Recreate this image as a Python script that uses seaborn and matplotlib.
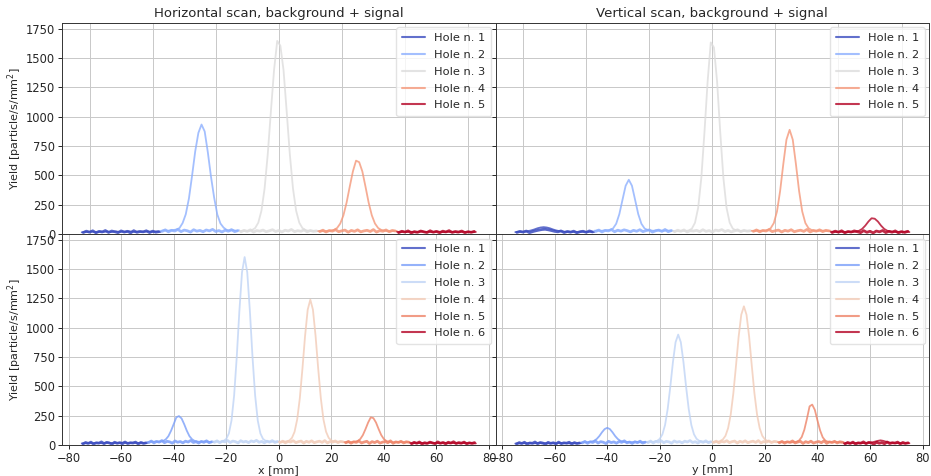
import numpy as np
import pandas as pd
import matplotlib
matplotlib.use("Agg")
import matplotlib.pyplot as plt
import seaborn as sns

# ---------------- data (yield in particles/s/mm^2, 1 mm scan step) ----------------
# Horizontal scan, top panel: 5 holes, 25 mm each, starting at these x positions
h5_starts = [-62.5, -37.5, -12.5, 12.5, 37.5]
h5_hole1 = [14, 19, 16, 21, 17, 15, 20, 18, 22, 16, 19, 21, 17, 20, 18, 23, 19, 17, 21, 18, 20, 22, 18, 19, 21, 17]
h5_hole2 = [26, 31, 27, 30, 33, 38, 50, 93, 168, 302, 497, 705, 862, 933, 874, 696, 488, 310, 166, 89, 54, 34, 29, 32, 27, 30]
h5_hole3 = [24, 27, 23, 26, 33, 50, 96, 198, 388, 680, 1046, 1398, 1646, 1605, 1398, 1046, 680, 388, 198, 96, 50, 33, 26, 24, 27, 25]
h5_hole4 = [24, 27, 22, 26, 28, 34, 51, 89, 159, 267, 403, 533, 625, 612, 533, 403, 267, 159, 89, 51, 34, 28, 25, 22, 26, 24]
h5_hole5 = [18, 15, 19, 16, 20, 17, 14, 18, 21, 16, 19, 15, 18, 20, 17, 15, 19, 16, 18, 14, 17, 19, 16, 18, 15, 17]
# second (background-only) scan row, 25 points per hole, offset by half a step
h5_bg = [12, 24, 15, 27, 10, 22, 17, 29, 13, 25, 19, 11, 26, 16, 23, 9, 28, 14, 21, 18, 27, 12, 24, 15, 20,
         22, 35, 18, 31, 25, 38, 20, 33, 27, 16, 36, 24, 30, 19, 34, 26, 39, 21, 29, 17, 32, 23, 37, 20, 28,
         18, 31, 22, 35, 16, 29, 24, 33, 19, 27, 36, 21, 30, 17, 32, 25, 38, 20, 28, 23, 34, 18, 30, 22, 26,
         20, 32, 17, 29, 24, 36, 19, 27, 33, 15, 30, 22, 35, 18, 26, 31, 21, 37, 16, 28, 23, 34, 19, 30, 25,
         11, 23, 16, 26, 9, 20, 14, 25, 18, 12, 27, 15, 22, 10, 24, 17, 28, 13, 21, 16, 25, 11, 19, 14, 22]

# Vertical scan, top panel
v5_starts = [-62.5, -37.5, -12.5, 12.5, 37.5]
v5_hole1 = [16, 19, 17, 21, 24, 30, 38, 48, 55, 58, 55, 48, 38, 30, 24, 21, 18, 20, 17, 19, 16, 20, 18, 17, 19, 16]
v5_hole2 = [27, 30, 26, 29, 31, 33, 47, 87, 169, 291, 411, 462, 411, 291, 169, 87, 47, 33, 29, 27, 31, 28, 26, 30, 28, 27]
v5_hole3 = [24, 26, 23, 27, 25, 30, 45, 96, 223, 478, 868, 1300, 1633, 1590, 1300, 868, 478, 223, 96, 45, 30, 26, 24, 27, 23, 25]
v5_hole4 = [27, 25, 29, 26, 28, 33, 49, 93, 192, 368, 596, 804, 888, 804, 596, 368, 192, 93, 49, 33, 28, 26, 29, 27, 25, 28]
v5_hole5 = [17, 20, 16, 19, 18, 15, 19, 17, 21, 27, 43, 71, 106, 134, 130, 106, 71, 43, 27, 21, 18, 16, 19, 17, 20, 16]
v5_bg = [13, 22, 16, 25, 11, 20, 27, 33, 38, 40, 35, 29, 22, 18, 26, 12, 21, 15, 24, 10, 19, 23, 14, 26, 17,
         21, 33, 17, 30, 26, 37, 19, 32, 24, 35, 28, 18, 31, 23, 36, 20, 29, 34, 16, 27, 33, 22, 38, 19, 29,
         19, 32, 23, 34, 17, 28, 25, 31, 20, 36, 22, 29, 16, 33, 27, 37, 21, 30, 18, 26, 35, 20, 31, 24, 28,
         22, 34, 18, 30, 25, 37, 20, 28, 33, 17, 31, 24, 36, 19, 27, 32, 22, 38, 17, 29, 24, 35, 20, 31, 26,
         12, 24, 15, 27, 10, 21, 16, 26, 19, 11, 28, 14, 23, 9, 25, 18, 29, 12, 22, 15, 26, 10, 20, 13, 23]

# Horizontal scan, bottom panel: 6 holes
h6_starts = [-75, -50, -25, 0, 25, 50]
h6_hole1 = [14, 17, 15, 19, 16, 18, 20, 17, 15, 19, 21, 18, 16, 20, 17, 19, 22, 18, 16, 19, 21, 17, 18, 20, 16, 19]
h6_hole2 = [26, 29, 27, 30, 28, 30, 35, 49, 76, 122, 178, 236, 247, 227, 178, 122, 76, 49, 35, 30, 27, 29, 31, 28, 26, 29]
h6_hole3 = [28, 31, 29, 27, 36, 52, 99, 209, 422, 750, 1142, 1472, 1603, 1472, 1142, 750, 422, 209, 99, 52, 36, 30, 28, 31, 29, 30]
h6_hole4 = [28, 26, 30, 31, 39, 61, 113, 218, 399, 651, 930, 1154, 1240, 1154, 930, 651, 399, 218, 113, 61, 39, 31, 27, 29, 28, 26]
h6_hole5 = [24, 27, 23, 26, 28, 34, 51, 85, 136, 192, 236, 230, 192, 136, 85, 51, 34, 28, 25, 23, 26, 24, 27, 22, 25, 23]
h6_hole6 = [18, 15, 19, 16, 20, 17, 14, 18, 21, 16, 19, 15, 18, 20, 17, 15, 19, 16, 18, 14, 17, 19, 16, 18, 15, 14]
h6_bg = [10, 22, 14, 25, 9, 19, 16, 27, 12, 23, 18, 8, 24, 15, 21, 11, 26, 13, 20, 17, 25, 10, 22, 14, 19,
         21, 34, 18, 31, 25, 38, 20, 32, 27, 16, 35, 24, 30, 19, 33, 26, 39, 22, 29, 17, 31, 23, 36, 20, 28,
         23, 36, 20, 33, 27, 39, 22, 34, 29, 18, 37, 26, 32, 21, 35, 28, 40, 24, 31, 19, 33, 25, 38, 22, 30,
         22, 33, 19, 31, 26, 37, 21, 29, 34, 17, 32, 24, 36, 20, 28, 33, 23, 38, 18, 30, 25, 35, 21, 31, 27,
         19, 31, 16, 28, 23, 35, 18, 26, 32, 14, 29, 21, 33, 17, 25, 30, 20, 36, 15, 27, 22, 32, 18, 28, 24,
         11, 23, 15, 26, 9, 20, 14, 25, 18, 12, 27, 15, 22, 10, 24, 17, 28, 13, 21, 16, 25, 11, 19, 14, 21]

# Vertical scan, bottom panel
v6_starts = [-75, -50, -25, 0, 25, 50]
v6_hole1 = [13, 16, 14, 17, 15, 18, 16, 14, 17, 19, 15, 16, 18, 14, 17, 15, 16, 19, 15, 17, 14, 16, 18, 15, 17, 16]
v6_hole2 = [22, 25, 23, 26, 29, 36, 52, 77, 109, 136, 147, 136, 109, 77, 52, 36, 29, 25, 27, 24, 26, 28, 25, 23, 26, 25]
v6_hole3 = [27, 29, 26, 30, 36, 53, 92, 171, 308, 498, 708, 877, 942, 877, 708, 498, 308, 171, 92, 53, 36, 30, 28, 26, 29, 27]
v6_hole4 = [27, 29, 26, 35, 48, 79, 145, 262, 444, 678, 923, 1111, 1183, 1111, 923, 678, 444, 262, 145, 79, 48, 35, 29, 27, 30, 28]
v6_hole5 = [24, 26, 23, 27, 25, 22, 26, 28, 39, 68, 130, 225, 330, 345, 300, 210, 125, 66, 38, 28, 25, 23, 26, 24, 22, 25]
v6_hole6 = [15, 18, 14, 17, 16, 19, 15, 17, 16, 18, 20, 24, 30, 36, 40, 36, 29, 23, 19, 17, 15, 18, 16, 14, 17, 15]
v6_bg = [9, 21, 13, 24, 8, 18, 15, 26, 11, 22, 17, 7, 23, 14, 20, 10, 25, 12, 19, 16, 24, 9, 21, 13, 18,
         18, 31, 15, 28, 22, 35, 17, 29, 24, 13, 32, 21, 27, 16, 30, 23, 36, 19, 26, 14, 28, 20, 33, 17, 25,
         21, 34, 18, 31, 25, 37, 20, 32, 27, 16, 35, 24, 30, 19, 33, 26, 38, 22, 29, 17, 31, 23, 36, 20, 28,
         22, 33, 19, 31, 26, 37, 21, 29, 34, 17, 32, 24, 36, 20, 28, 33, 23, 38, 18, 30, 25, 35, 21, 31, 27,
         19, 31, 16, 28, 23, 35, 18, 26, 32, 14, 29, 21, 33, 17, 25, 30, 20, 36, 15, 27, 22, 32, 18, 28, 24,
         10, 22, 14, 25, 9, 19, 16, 27, 12, 23, 18, 8, 24, 15, 21, 11, 26, 13, 20, 17, 25, 10, 22, 14, 19]

titles = ["Horizontal scan, background + signal", "Vertical scan, background + signal"]
xlabels = ["x [mm]", "y [mm]"]
ylabel = "Yield [particle/s/mm$^2$]"
yticks = [0, 250, 500, 750, 1000, 1250, 1500, 1750]
xticks_bottom = [-80, -60, -40, -20, 0, 20, 40, 60, 80]

panels = [
    (0, 0, h5_starts, [h5_hole1, h5_hole2, h5_hole3, h5_hole4, h5_hole5], h5_bg),
    (0, 1, v5_starts, [v5_hole1, v5_hole2, v5_hole3, v5_hole4, v5_hole5], v5_bg),
    (1, 0, h6_starts, [h6_hole1, h6_hole2, h6_hole3, h6_hole4, h6_hole5, h6_hole6], h6_bg),
    (1, 1, v6_starts, [v6_hole1, v6_hole2, v6_hole3, v6_hole4, v6_hole5, v6_hole6], v6_bg),
]

# ---------------- style ----------------
sns.set_theme(style="ticks")
plt.rcParams.update({
    "font.family": ["DejaVu Sans"],
    "axes.edgecolor": "#333333",
    "axes.linewidth": 0.7,
    "grid.color": "#c8c8c8",
    "grid.linewidth": 0.7,
    "xtick.major.size": 3,
    "ytick.major.size": 3,
    "xtick.major.width": 0.7,
    "ytick.major.width": 0.7,
    "text.color": "#262626",
    "xtick.color": "#262626",
    "ytick.color": "#262626",
})

fig, axes = plt.subplots(2, 2, figsize=(9.31, 4.76), dpi=100)
fig.subplots_adjust(left=0.0666, right=0.998, top=0.952, bottom=0.065,
                    hspace=0, wspace=0)

for r, c, starts, holes, bg in panels:
    ax = axes[r, c]
    n = len(holes)
    cols = [plt.cm.coolwarm(v) for v in np.linspace(0, 1, n)]
    names = [f"Hole n. {i + 1}" for i in range(n)]
    frames, bg_frames = [], []
    for i, (s, vals) in enumerate(zip(starts, holes)):
        frames.append(pd.DataFrame({"pos": s + np.arange(len(vals)),
                                    "yield": vals, "hole": names[i]}))
        seg = bg[i * 25:(i + 1) * 25]
        bg_frames.append(pd.DataFrame({"pos": s + 0.5 + np.arange(len(seg)),
                                       "yield": seg, "hole": names[i]}))
    df = pd.concat(frames, ignore_index=True)
    dfb = pd.concat(bg_frames, ignore_index=True)
    sns.lineplot(data=dfb, x="pos", y="yield", hue="hole", palette=cols,
                 estimator=None, sort=False, linewidth=2.0, alpha=0.85,
                 ax=ax, legend=False)
    sns.lineplot(data=df, x="pos", y="yield", hue="hole", palette=cols,
                 estimator=None, sort=False, linewidth=1.3, alpha=0.8,
                 ax=ax, legend=False)
    handles = [plt.Line2D([], [], color=cols[i], lw=1.5, alpha=0.8) for i in range(n)]
    ax.legend(handles, names, loc="upper right",
              fontsize=8.2, frameon=True, framealpha=0.8, edgecolor="#dddddd",
              handlelength=2.0, borderaxespad=0.4, labelspacing=0.6, borderpad=0.5)
    ax.set_ylim(0, 1800)
    ax.set_yticks(yticks)
    ax.grid(True)
    ax.tick_params(labelsize=8.3, pad=2)
    ax.set_xlabel("")
    ax.set_ylabel("")
    for sp in ax.spines.values():
        sp.set_visible(True)
    if r == 0:
        ax.set_title(titles[c], fontsize=9.5, pad=4)
        ax.tick_params(labelbottom=False)
    else:
        ax.set_xlabel(xlabels[c], fontsize=8, labelpad=0)
        ax.set_xticks(xticks_bottom)
    if c == 0:
        ax.set_ylabel(ylabel, fontsize=8, labelpad=1)
    else:
        ax.tick_params(labelleft=False)

fig.savefig("out.png", dpi=100)
